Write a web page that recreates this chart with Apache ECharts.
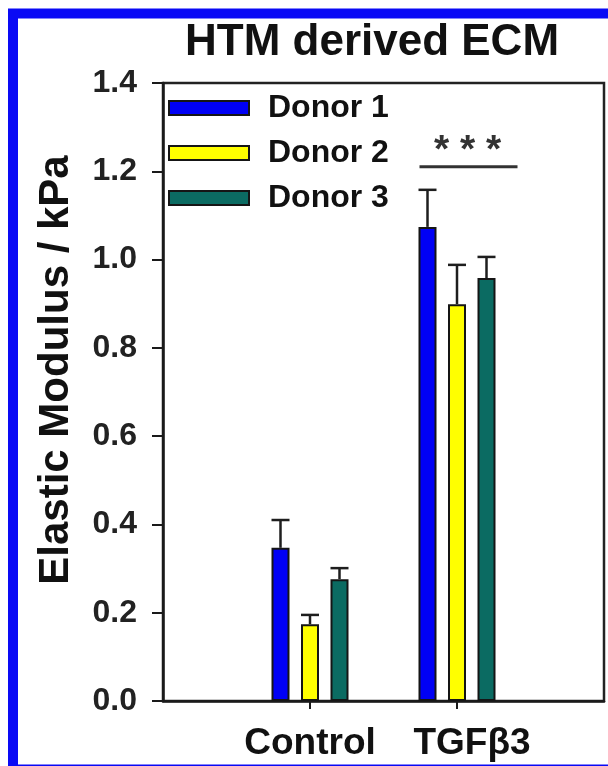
<!DOCTYPE html>
<html>
<head>
<meta charset="utf-8">
<script src="https://cdn.jsdelivr.net/npm/echarts@6/dist/echarts.min.js"></script>
<style>
html,body{margin:0;padding:0;background:#fff;}
#c{width:608px;height:766px;}
</style>
</head>
<body>
<div id="c"></div>
<script>
// ---- data ----
const categories = ['Control', 'TGFβ3'];
const seriesNames = ['Donor 1', 'Donor 2', 'Donor 3'];
const donor1 = [0.347, 1.074];
const donor1Err = [0.063, 0.084];
const donor2 = [0.174, 0.899];
const donor2Err = [0.021, 0.089];
const donor3 = [0.276, 0.958];
const donor3Err = [0.025, 0.048];
const yTicks = [0.0, 0.2, 0.4, 0.6, 0.8, 1.0, 1.2, 1.4];
const sigLabel = '* * *';
const sigLevel = 1.21;

// ---- style ----
const FONT = '"Liberation Sans", Arial, sans-serif';
const colors = ['#0000f5', '#ffff00', '#0b6b62'];
const BAR_W = 18;
const BAR_GAP = 11.5;
const STEP = BAR_W + BAR_GAP;

// category slots (blank slots spread the two groups like the original axis)
const slots = [' ', '  ', categories[0], '   ', categories[1], '    ', '     '];
const catSlot = categories.map(c => slots.indexOf(c));

const values = [donor1, donor2, donor3];
const errs = [donor1Err, donor2Err, donor3Err];

function slotData(vals) {
  return slots.map(s => {
    const i = categories.indexOf(s);
    return i >= 0 ? vals[i] : '-';
  });
}

const barSeries = seriesNames.map((name, s) => ({
  name: name,
  type: 'bar',
  data: slotData(values[s]),
  barWidth: BAR_W,
  barGap: (BAR_GAP / BAR_W * 100) + '%',
  itemStyle: { color: colors[s], borderColor: '#151515', borderWidth: 2 },
  z: 2
}));

const errData = [];
seriesNames.forEach((n, s) => {
  categories.forEach((c, i) => {
    errData.push([catSlot[i], values[s][i], errs[s][i], s]);
  });
});

const errSeries = {
  type: 'custom',
  name: 'err',
  data: errData,
  encode: { x: 0, y: 1 },
  z: 3,
  renderItem: function (params, api) {
    const xi = api.value(0), v = api.value(1), e = api.value(2), s = api.value(3);
    const base = api.coord([xi, v]);
    const top = api.coord([xi, v + e]);
    const cx = base[0] + (s - 1) * STEP;
    const st = { stroke: '#1e1e1e', lineWidth: 2.5 };
    return {
      type: 'group',
      children: [
        { type: 'line', shape: { x1: cx, y1: base[1], x2: cx, y2: top[1] }, style: st },
        { type: 'line', shape: { x1: cx - 9, y1: top[1], x2: cx + 9, y2: top[1] }, style: st }
      ]
    };
  }
};

const chart = echarts.init(document.getElementById('c'), null, { renderer: 'canvas' });
const option = {
  backgroundColor: '#fff',
  animation: false,
  title: {
    text: 'HTM derived ECM',
    left: 185,
    top: 21,
    padding: 0,
    textStyle: { fontFamily: FONT, fontSize: 44, fontWeight: 'bold', color: '#111' }
  },
  legend: {
    data: seriesNames,
    orient: 'vertical',
    left: 168,
    top: 92,
    padding: 0,
    itemWidth: 80,
    itemHeight: 14,
    itemGap: 13,
    icon: 'rect',
    textStyle: { fontFamily: FONT, fontSize: 32, fontWeight: 'bold', color: '#111', lineHeight: 30, padding: [0, 0, 0, 14] }
  },
  grid: {
    left: 163, top: 83, right: 4, bottom: 65,
    show: true, borderColor: '#222', borderWidth: 2.5, backgroundColor: 'transparent'
  },
  xAxis: {
    type: 'category',
    data: slots,
    boundaryGap: false,
    axisLine: { lineStyle: { color: '#1a1a1a', width: 2.5 } },
    axisTick: {
      show: true, inside: false, length: 8,
      interval: (idx, val) => categories.indexOf(val) >= 0,
      lineStyle: { color: '#1a1a1a', width: 2 }
    },
    axisLabel: {
      interval: 0,
      margin: 24,
      fontFamily: FONT, fontSize: 37, fontWeight: 'bold', color: '#111',
      formatter: v => categories.indexOf(v) === 1 ? '{s|' + v + '}' : (categories.indexOf(v) === 0 ? v : ''),
      rich: { s: { fontFamily: FONT, fontSize: 37, fontWeight: 'bold', color: '#111', padding: [0, 0, 0, 30] } }
    },
    splitLine: { show: false }
  },
  yAxis: {
    type: 'value',
    min: yTicks[0],
    max: yTicks[yTicks.length - 1],
    interval: 0.2,
    name: 'Elastic Modulus / kPa',
    nameLocation: 'middle',
    nameGap: 86,
    nameTextStyle: { fontFamily: FONT, fontSize: 42, fontWeight: 'bold', color: '#111', padding: [0, 0, 0, 44] },
    axisLine: { show: true, lineStyle: { color: '#1a1a1a', width: 2.5 } },
    axisTick: { show: true, inside: false, length: 11, lineStyle: { color: '#1a1a1a', width: 2 } },
    axisLabel: {
      margin: 26,
      fontFamily: FONT, fontSize: 32, fontWeight: 'bold', color: '#222',
      formatter: v => v.toFixed(1)
    },
    splitLine: { show: false }
  },
  series: barSeries.concat([errSeries]),
  graphic: [
    {
      id: 'frame', type: 'rect', z: 100, silent: true,
      shape: { x: 13, y: 13.5, width: 640, height: 756 },
      style: { fill: 'none', stroke: '#0a0af5', lineWidth: 10 }
    }
  ]
};
chart.setOption(option);

// significance annotation anchored to the TGFβ3 group and the y scale
const ySig = chart.convertToPixel({ yAxisIndex: 0 }, sigLevel);
const xT = chart.convertToPixel({ xAxisIndex: 0 }, categories[1]);
const x0 = xT - STEP - BAR_W / 2 + 1;
const x1 = xT + STEP + BAR_W / 2 + 22;
chart.setOption({
  graphic: [
    {
      id: 'sigline', type: 'line', z: 50,
      shape: { x1: x0, y1: ySig, x2: x1, y2: ySig },
      style: { stroke: '#333', lineWidth: 3 }
    },
    {
      id: 'sigtext', type: 'text', z: 50,
      style: {
        text: sigLabel, x: (x0 + x1) / 2 - 1, y: ySig + 4,
        textAlign: 'center', textVerticalAlign: 'bottom',
        fontFamily: FONT, fontSize: 39, fontWeight: 'bold', fill: '#333'
      }
    }
  ]
});
</script>
</body>
</html>
